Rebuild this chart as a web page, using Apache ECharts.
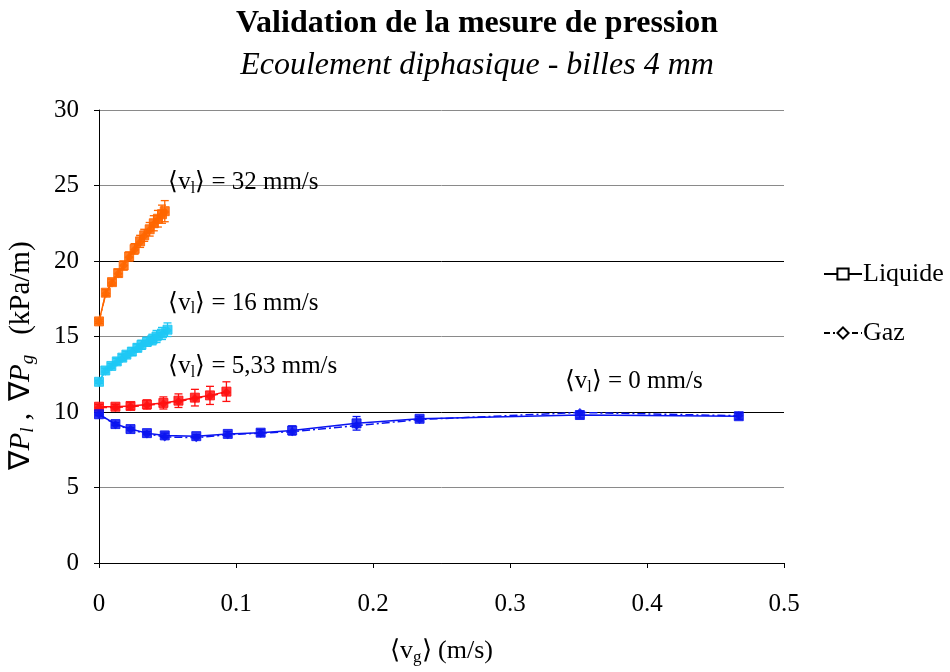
<!DOCTYPE html>
<html>
<head>
<meta charset="utf-8">
<script src="https://cdn.jsdelivr.net/npm/echarts@6/dist/echarts.min.js"></script>
<style>
  html, body { margin: 0; padding: 0; background: #fff; }
  #chart { width: 950px; height: 672px; }
</style>
</head>
<body>
<div id="chart"></div>
<script>
// Superficial gas velocity <vg> (m/s) and pressure gradients (kPa/m), one set per liquid velocity
const vg32 = [0, 0.005, 0.0095, 0.014, 0.018, 0.022, 0.026, 0.030, 0.033, 0.037, 0.040, 0.043, 0.046, 0.048];
const dpLiq32 = [16.0, 17.9, 18.6, 19.2, 19.7, 20.3, 20.8, 21.3, 21.7, 22.1, 22.5, 22.8, 23.1, 23.3];
const dpGaz32 = [16.0, 17.85, 18.55, 19.15, 19.7, 20.25, 20.75, 21.25, 21.65, 22.05, 22.45, 22.75, 23.05, 23.25];
const err32 = [0.15, 0.2, 0.2, 0.25, 0.3, 0.3, 0.35, 0.4, 0.4, 0.45, 0.5, 0.55, 0.6, 0.7];

const vg16 = [0, 0.0046, 0.009, 0.013, 0.017, 0.020, 0.024, 0.028, 0.031, 0.035, 0.039, 0.042, 0.046, 0.050];
const dpLiq16 = [12.0, 12.75, 13.05, 13.35, 13.6, 13.8, 14.0, 14.25, 14.45, 14.65, 14.8, 15.0, 15.2, 15.45];
const dpGaz16 = [12.0, 12.7, 13.0, 13.3, 13.55, 13.75, 13.95, 14.2, 14.4, 14.6, 14.75, 14.95, 15.15, 15.4];
const err16 = [0.1, 0.15, 0.15, 0.2, 0.2, 0.2, 0.25, 0.25, 0.3, 0.3, 0.35, 0.4, 0.4, 0.45];

const vg5 = [0, 0.012, 0.023, 0.035, 0.047, 0.058, 0.070, 0.081, 0.093];
const dpLiq5 = [10.35, 10.35, 10.4, 10.5, 10.6, 10.75, 10.95, 11.1, 11.35];
const dpGaz5 = [10.3, 10.3, 10.35, 10.45, 10.55, 10.7, 10.9, 11.05, 11.3];
const err5 = [0.15, 0.15, 0.25, 0.3, 0.4, 0.45, 0.55, 0.6, 0.65];

const vg0 = [0, 0.012, 0.023, 0.035, 0.048, 0.071, 0.094, 0.118, 0.141, 0.188, 0.234, 0.351, 0.467];
const dpLiq0 = [9.85, 9.2, 8.87, 8.6, 8.45, 8.4, 8.55, 8.63, 8.78, 9.25, 9.55, 9.8, 9.72];
const dpGaz0 = [9.85, 9.15, 8.85, 8.55, 8.35, 8.3, 8.5, 8.6, 8.7, 9.1, 9.5, 9.97, 9.75];
const err0 = [0.1, 0.1, 0.1, 0.1, 0.15, 0.1, 0.15, 0.2, 0.3, 0.45, 0.15, 0.2, 0.2];

const xTicks = { min: 0, max: 0.5, interval: 0.1 };
const yTicks = { min: 0, max: 30, interval: 5 };

const FONT = '"Liberation Serif", "Times New Roman", serif';

const groups = [
  { vl: '32', color: '#FF6600', x: vg32, liq: dpLiq32, gaz: dpGaz32, err: err32, note: [0.0505, 25.2] },
  { vl: '16', color: '#1EC8F5', x: vg16, liq: dpLiq16, gaz: dpGaz16, err: err16, note: [0.0505, 17.2] },
  { vl: '5,33', color: '#FF1010', x: vg5, liq: dpLiq5, gaz: dpGaz5, err: err5, note: [0.0505, 13.0] },
  { vl: '0', color: '#0A14F0', x: vg0, liq: dpLiq0, gaz: dpGaz0, err: err0, note: [0.340, 12.0] }
];

const pairs = (xs, ys) => xs.map((v, i) => [v, ys[i]]);

function errorBars(g) {
  return {
    type: 'custom',
    silent: true,
    z: 3,
    data: g.x.map((v, i) => [v, g.liq[i] - g.err[i], g.liq[i] + g.err[i]]),
    renderItem(params, api) {
      const top = api.coord([api.value(0), api.value(2)]);
      const bot = api.coord([api.value(0), api.value(1)]);
      const w = 4;
      const style = { stroke: g.color, lineWidth: 1.3 };
      return {
        type: 'group',
        children: [
          { type: 'line', shape: { x1: top[0], y1: top[1], x2: bot[0], y2: bot[1] }, style },
          { type: 'line', shape: { x1: top[0] - w, y1: top[1], x2: top[0] + w, y2: top[1] }, style },
          { type: 'line', shape: { x1: bot[0] - w, y1: bot[1], x2: bot[0] + w, y2: bot[1] }, style }
        ]
      };
    }
  };
}

const series = [];
groups.forEach(g => {
  series.push(errorBars(g));
  series.push({
    type: 'line', name: 'Liquide ' + g.vl, data: pairs(g.x, g.liq),
    symbol: 'rect', symbolSize: 9, z: 4,
    lineStyle: { color: g.color, width: 1.5 },
    itemStyle: { color: g.color, opacity: 0.85, borderColor: g.color, borderWidth: 1 }
  });
  series.push({
    type: 'line', name: 'Gaz ' + g.vl, data: pairs(g.x, g.gaz),
    symbol: 'diamond', symbolSize: 9, z: 4,
    lineStyle: { color: g.color, width: 1.5, type: [8, 3, 2, 3] },
    itemStyle: { color: g.color, opacity: 0.85 }
  });
});
// legend entries (black, no data)
series.push({
  type: 'line', name: 'Liquide', data: [], symbol: 'rect', symbolSize: 7,
  lineStyle: { color: '#000', width: 1 },
  itemStyle: { color: '#fff', borderColor: '#000', borderWidth: 1 }
});
series.push({
  type: 'line', name: 'Gaz', data: [], symbol: 'diamond', symbolSize: 8,
  lineStyle: { color: '#000', width: 1.2, type: [6, 3, 2, 3] },
  itemStyle: { color: '#fff', borderColor: '#000', borderWidth: 1 }
});

const chart = echarts.init(document.getElementById('chart'), null, { renderer: 'canvas' });

const option = {
  animation: false,
  backgroundColor: '#fff',
  title: {
    text: 'Validation de la mesure de pression',
    subtext: 'Ecoulement diphasique - billes 4 mm',
    left: 472, top: 3, textAlign: 'center', itemGap: 10,
    textStyle: { fontFamily: FONT, fontSize: 32, fontWeight: 'bold', color: '#000' },
    subtextStyle: { fontFamily: FONT, fontSize: 32, fontStyle: 'italic', color: '#000' }
  },
  legend: {
    data: ['Liquide', 'Gaz'],
    orient: 'vertical', left: 818, top: 256, itemGap: 33,
    itemWidth: 38, itemHeight: 14,
    textStyle: { fontFamily: FONT, fontSize: 26, color: '#000', padding: [0, 0, 0, -4] },
    selectedMode: false
  },
  grid: { left: 99, right: 166, top: 110, bottom: 109, containLabel: false, outerBoundsMode: 'none' },
  xAxis: {
    type: 'value', ...xTicks,
    name: '{t|⟨v}{s|g}{t|⟩ (m/s)}', nameLocation: 'middle', nameGap: 74,
    nameTextStyle: {
      rich: {
        t: { fontFamily: FONT, fontSize: 26, color: '#000' },
        s: { fontFamily: FONT, fontSize: 17, color: '#000', padding: [12, 0, 0, 0] }
      }
    },
    axisLine: { lineStyle: { color: '#000', width: 1 } },
    axisTick: { show: true, length: 5, lineStyle: { color: '#000' } },
    axisLabel: { fontFamily: FONT, fontSize: 25, color: '#000', margin: 29 },
    splitLine: { show: false }
  },
  yAxis: {
    type: 'value', ...yTicks,
    name: '{t|∇}{i|P}{si|l}{t| ,}{sa| }{t|∇}{i|P}{si|g}{sb| }{t|(kPa/m)}{tail| }',
    nameLocation: 'middle', nameGap: 62, nameRotate: 90,
    nameTextStyle: {
      rich: {
        t: { fontFamily: FONT, fontSize: 29, color: '#000' },
        i: { fontFamily: FONT, fontSize: 29, fontStyle: 'italic', color: '#000' },
        si: { fontFamily: FONT, fontSize: 19, fontStyle: 'italic', color: '#000', padding: [13, 0, 0, 0] },
        sa: { fontFamily: FONT, fontSize: 29, width: 12 },
        sb: { fontFamily: FONT, fontSize: 29, width: 20 },
        tail: { fontFamily: FONT, fontSize: 29, width: 38 }
      }
    },
    axisLine: { show: true, lineStyle: { color: '#000', width: 1 } },
    axisTick: { show: true, length: 5, lineStyle: { color: '#000' } },
    axisLabel: { fontFamily: FONT, fontSize: 25, color: '#000', margin: 20 },
    splitLine: { show: true, lineStyle: { color: ['#000', '#8a8a8a', '#000', '#8a8a8a', '#000', '#8a8a8a', '#8a8a8a'], width: 1 } }
  },
  series
};

chart.setOption(option);

// Liquid-velocity annotations anchored in data coordinates
const noteRich = {
  t: { fontFamily: FONT, fontSize: 25, color: '#000' },
  s: { fontFamily: FONT, fontSize: 16, color: '#000', padding: [12, 0, 0, 0] }
};
chart.setOption({
  graphic: groups.map(g => {
    const p = chart.convertToPixel({ gridIndex: 0 }, g.note);
    return {
      type: 'text', x: p[0], y: p[1], z: 10,
      style: {
        text: '{t|⟨v}{s|l}{t|⟩ = ' + g.vl + ' mm/s}',
        rich: noteRich, verticalAlign: 'middle', align: 'left'
      }
    };
  })
});
</script>
</body>
</html>
